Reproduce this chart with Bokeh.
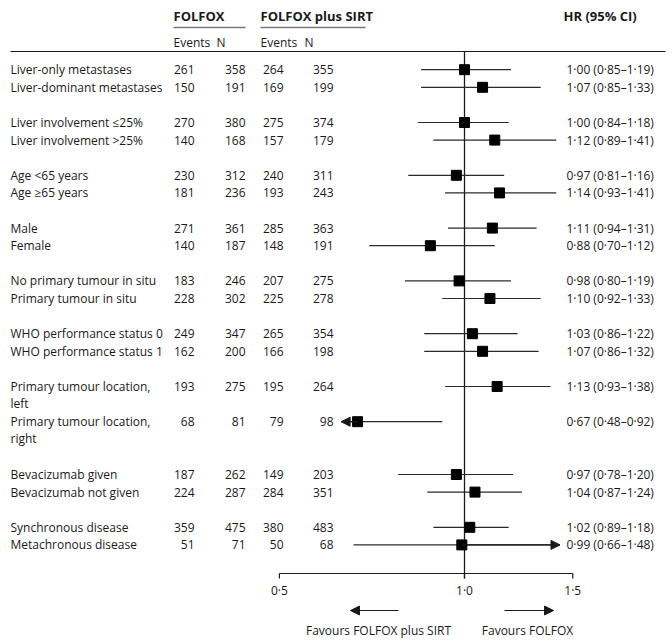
import math
from bokeh.plotting import figure
from bokeh.models import ColumnDataSource, Range1d, LogScale, Arrow, NormalHead
from bokeh.core.properties import value
from bokeh.embed import file_html
from bokeh.resources import INLINE

# ---------------- data ----------------
labels = [
    "Liver-only metastases", "Liver-dominant metastases",
    "Liver involvement ≤25%", "Liver involvement >25%",
    "Age <65 years", "Age ≥65 years",
    "Male", "Female",
    "No primary tumour in situ", "Primary tumour in situ",
    "WHO performance status 0", "WHO performance status 1",
    "Primary tumour location,\nleft", "Primary tumour location,\nright",
    "Bevacizumab given", "Bevacizumab not given",
    "Synchronous disease", "Metachronous disease",
]
folfox_events = [261, 150, 270, 140, 230, 181, 271, 140, 183, 228, 249, 162, 193, 68, 187, 224, 359, 51]
folfox_n = [358, 191, 380, 168, 312, 236, 361, 187, 246, 302, 347, 200, 275, 81, 262, 287, 475, 71]
sirt_events = [264, 169, 275, 157, 240, 193, 285, 148, 207, 225, 265, 166, 195, 79, 149, 284, 380, 50]
sirt_n = [355, 199, 374, 179, 311, 243, 363, 191, 275, 278, 354, 198, 264, 98, 203, 351, 483, 68]
hr = [1.00, 1.07, 1.00, 1.12, 0.97, 1.14, 1.11, 0.88, 0.98, 1.10, 1.03, 1.07, 1.13, 0.67, 0.97, 1.04, 1.02, 0.99]
ci_low = [0.85, 0.85, 0.84, 0.89, 0.81, 0.93, 0.94, 0.70, 0.80, 0.92, 0.86, 0.86, 0.93, 0.48, 0.78, 0.87, 0.89, 0.66]
ci_high = [1.19, 1.33, 1.18, 1.41, 1.16, 1.41, 1.31, 1.12, 1.19, 1.33, 1.22, 1.32, 1.38, 0.92, 1.20, 1.24, 1.18, 1.48]
tick_values = [0.5, 1.0, 1.5]
tick_labels = ["0·5", "1·0", "1·5"]

# ---------------- layout ----------------
W, H = 672, 642
FONT = value("Open Sans")
FS = value("12px")
INK = "#1a1a1a"
row_slots = [0, 1, 3, 4, 6, 7, 9, 10, 12, 13, 15, 16, 18, 20, 23, 24, 26, 27]
y0, step = 69.2, 17.6
ys = [y0 + step * s for s in row_slots]
clip_lo, clip_hi = 0.63, 1.43
px_per_ln, x_one = 267.0, 464.0

p = figure(width=W, height=H, output_backend="svg", toolbar_location=None,
           x_range=Range1d(0, W), y_range=Range1d(H, 0),
           x_axis_location=None, y_axis_location=None, min_border=0)
p.grid.visible = False
p.outline_line_color = None
p.background_fill_color = "white"
p.extra_x_ranges = {"hr": Range1d(math.exp((0 - x_one) / px_per_ln),
                                  math.exp((W - x_one) / px_per_ln))}
p.extra_x_scales = {"hr": LogScale()}

def fmt(v):
    return f"{v:.2f}".replace(".", "·")

first_lines = [l.split("\n")[0] for l in labels]
src = ColumnDataSource(dict(
    y=ys, label=first_lines,
    fe=[str(v) for v in folfox_events], fn=[str(v) for v in folfox_n],
    se=[str(v) for v in sirt_events], sn=[str(v) for v in sirt_n],
    hr=hr, lo=[max(v, clip_lo) for v in ci_low], hi=[min(v, clip_hi) for v in ci_high],
    hrtxt=[f"{fmt(h)} ({fmt(l)}–{fmt(u)})" for h, l, u in zip(hr, ci_low, ci_high)],
))
common = dict(text_font=FONT, text_font_size=FS, text_color=INK, text_baseline="middle")

# header
p.text(x=[173, 260, 563], y=[15, 15, 15], text=["FOLFOX", "FOLFOX plus SIRT", "HR (95% CI)"],
       text_font_style="bold", text_font=FONT, text_font_size=value("13px"), text_color=INK,
       text_baseline="middle")
p.segment(x0=[173, 260], x1=[245, 365], y0=[27, 27], y1=[27, 27], line_color="#777777", line_width=1.6)
p.text(x=[173, 216, 260, 304], y=[42] * 4, text=["Events", "N", "Events", "N"], **common)
p.segment(x0=[10], x1=[665], y0=[51], y1=[51], line_color=INK, line_width=1.2)

# table
p.text(x=10, y="y", text="label", source=src, text_align="left", **common)
sub = [(y + 16.5, l.split("\n")[1]) for y, l in zip(ys, labels) if "\n" in l]
p.text(x=[10] * len(sub), y=[s[0] for s in sub], text=[s[1] for s in sub], text_align="left", **common)
p.text(x=194, y="y", text="fe", source=src, text_align="right", **common)
p.text(x=245, y="y", text="fn", source=src, text_align="right", **common)
p.text(x=283, y="y", text="se", source=src, text_align="right", **common)
p.text(x=333, y="y", text="sn", source=src, text_align="right", **common)
p.text(x=566, y="y", text="hrtxt", source=src, text_align="left", **common)

# forest
p.segment(x0=[1.0], x1=[1.0], y0=[51], y1=[578], x_range_name="hr", line_color=INK, line_width=1.3)
p.segment(x0="lo", x1="hi", y0="y", y1="y", source=src, x_range_name="hr", line_color="#2a2a2a", line_width=1.2)
for h, l, u, y in zip(hr, ci_low, ci_high, ys):
    if l < clip_lo:
        p.add_layout(Arrow(x_start=h, x_end=clip_lo, y_start=y, y_end=y, x_range_name="hr",
                           line_color=INK, line_width=1.2,
                           end=NormalHead(size=9, fill_color=INK, line_color=INK)))
    if u > clip_hi:
        p.add_layout(Arrow(x_start=h, x_end=clip_hi, y_start=y, y_end=y, x_range_name="hr",
                           line_color=INK, line_width=1.2,
                           end=NormalHead(size=9, fill_color=INK, line_color=INK)))
p.scatter(x="hr", y="y", source=src, x_range_name="hr", marker="square", size=10,
          fill_color="black", line_color="black")

# x axis
p.segment(x0=[tick_values[0]], x1=[tick_values[-1]], y0=[573], y1=[573], x_range_name="hr",
          line_color=INK, line_width=1.2)
p.segment(x0=tick_values, x1=tick_values, y0=[573] * 3, y1=[578] * 3, x_range_name="hr",
          line_color=INK, line_width=1.2)
p.text(x=tick_values, y=[590] * 3, text=tick_labels, x_range_name="hr", text_align="center", **common)

# favours
p.add_layout(Arrow(x_start=398, x_end=350, y_start=610, y_end=610, line_color=INK, line_width=1.2,
                   end=NormalHead(size=9, fill_color=INK, line_color=INK)))
p.add_layout(Arrow(x_start=504, x_end=553, y_start=610, y_end=610, line_color=INK, line_width=1.2,
                   end=NormalHead(size=9, fill_color=INK, line_color=INK)))
p.text(x=[378, 527], y=[630, 630], text=["Favours FOLFOX plus SIRT", "Favours FOLFOX"],
       text_align="center", **common)

open("out.html", "w").write(file_html(p, INLINE))
